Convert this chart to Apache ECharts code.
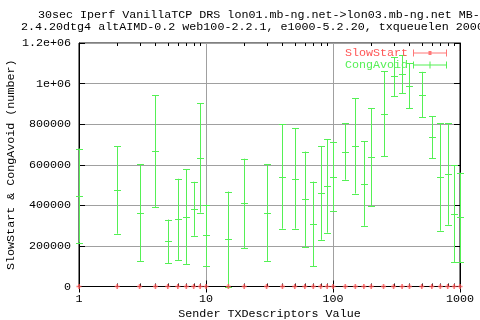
<!DOCTYPE html>
<html>
<head>
<meta charset="utf-8">
<script src="https://cdn.jsdelivr.net/npm/echarts@6/dist/echarts.min.js"></script>
<style>html,body{margin:0;padding:0;background:#fff}#chart{width:480px;height:320px}</style>
</head>
<body>
<div id="chart"></div>
<script>
// titles (clipped on the right like the original)
var titleLine1 = '30sec Iperf VanillaTCP DRS lon01.mb-ng.net->lon03.mb-ng.net MB-';
var titleLine2 = '2.4.20dtg4 altAIMD-0.2 web100-2.2.1, e1000-5.2.20, txqueuelen 2000';

// x values (TX descriptors)
var txDesc = [1, 2, 3, 4, 5, 6, 7, 8, 9, 10, 15, 20, 30, 40, 50, 60, 70, 80, 90, 100,
    125, 150, 175, 200, 250, 300, 350, 400, 500, 600, 700, 800, 900, 1000];
// SlowStart: always 0
var slowStart = [0, 0, 0, 0, 0, 0, 0, 0, 0, 0, 0, 0, 0, 0, 0, 0, 0, 0, 0, 0,
    0, 0, 0, 0, 0, 0, 0, 0, 0, 0, 0, 0, 0, 0];
// CongAvoid mean and error
var congMean = [448000, 475000, 364000, 667000, 223000, 331000, 344000, 383000, 634000, 252000,
    234000, 410000, 364000, 542000, 532000, 430000, 309000, 460000, 495000, 542000,
    665000, 693000, 507000, 638000, 851000, 1035000, 1046000, 990000, 946000, 735000,
    540000, 554000, 359000, 341000];
var congDev = [232000, 215000, 238000, 275000, 107000, 200000, 233000, 133000, 270000, 151000,
    234000, 220000, 238000, 257000, 247000, 235000, 208000, 230000, 230000, 168000,
    139000, 235000, 208000, 240000, 210000, 96000, 94000, 111000, 112000, 104000,
    265000, 250000, 238000, 220000];

var yTickLabels = ['0', '200000', '400000', '600000', '800000', '1e+06', '1.2e+06'];
var xTickLabels = ['1', '10', '100', '1000'];
var minorTickVals = [2, 3, 4, 5, 6, 7, 8, 9, 20, 30, 40, 50, 60, 70, 80, 90, 200, 300, 400, 500, 600, 700, 800, 900];

var RED = '#ff5555';
var GREEN = '#55f055';
var FONT = 'Liberation Mono';

var congData = [];
var ssData = [];
for (var i = 0; i < txDesc.length; i++) {
    congData.push([txDesc[i], congMean[i] - congDev[i], congMean[i], congMean[i] + congDev[i]]);
    ssData.push([txDesc[i], slowStart[i]]);
}

function crisp(v) { return Math.round(v) + 0.5; }

var myChart = echarts.init(document.getElementById('chart'));

var option = {
    animation: false,
    backgroundColor: '#fff',
    textStyle: { fontFamily: FONT, fontSize: 11.7, color: '#000' },
    title: [
        { text: titleLine1, left: 38, top: 9, padding: 0,
          textStyle: { fontFamily: FONT, fontSize: 11.7, fontWeight: 'normal', color: '#000' } },
        { text: titleLine2, left: 21, top: 21, padding: 0,
          textStyle: { fontFamily: FONT, fontSize: 11.7, fontWeight: 'normal', color: '#000' } }
    ],
    legend: {
        orient: 'vertical',
        right: 33,
        top: 47,
        padding: 0,
        itemGap: 0,
        itemWidth: 34,
        itemHeight: 7,
        align: 'right',
        textStyle: { fontFamily: FONT, fontSize: 11.7, lineHeight: 11 },
        data: [
            { name: 'SlowStart', textStyle: { color: RED },
              icon: 'path://M0,0h1v7h-1z M0,3h34v1h-34z M33,0h1v7h-1z M15.5,1.5h3v4h-3z' },
            { name: 'CongAvoid', textStyle: { color: GREEN },
              icon: 'path://M0,0h1v7h-1z M0,3h34v1h-34z M33,0h1v7h-1z M16.5,0h1v7h-1z' }
        ]
    },
    grid: { left: 79, right: 20, top: 43, bottom: 33.5, containLabel: false, outerBoundsMode: 'none',
        show: true, borderColor: '#000', borderWidth: 1 },
    xAxis: [{
        type: 'log',
        logBase: 10,
        min: 1,
        max: 1000,
        name: 'Sender TXDescriptors Value',
        nameLocation: 'middle',
        nameGap: 21,
        nameMoveOverlap: false,
        nameTextStyle: { fontFamily: FONT, fontSize: 11.7, color: '#000' },
        axisLine: { lineStyle: { color: '#000' } },
        axisTick: { inside: true, length: 6, lineStyle: { color: '#000' } },
        axisLabel: { margin: 6, fontFamily: FONT, fontSize: 11.7, color: '#000',
            formatter: function (v, idx) { return xTickLabels[idx] || String(Math.round(v)); } },
        splitLine: { show: true, lineStyle: { color: '#a0a0a0' } }
    }, {
        type: 'log',
        logBase: 10,
        min: 1,
        max: 1000,
        position: 'top',
        axisLine: { lineStyle: { color: '#000' } },
        axisTick: { inside: true, length: 6, lineStyle: { color: '#000' } },
        axisLabel: { show: false },
        splitLine: { show: false }
    }],
    yAxis: [{
        type: 'value',
        min: 0,
        max: 1200000,
        interval: 200000,
        name: 'SlowStart & CongAvoid (number)',
        nameLocation: 'middle',
        nameGap: 62,
        nameMoveOverlap: false,
        nameTextStyle: { fontFamily: FONT, fontSize: 11.7, color: '#000' },
        axisLine: { show: true, lineStyle: { color: '#000' } },
        axisTick: { show: true, inside: true, length: 6, lineStyle: { color: '#000' } },
        axisLabel: { margin: 8, fontFamily: FONT, fontSize: 11.7, color: '#000',
            formatter: function (v, idx) { return yTickLabels[idx]; } },
        splitLine: { show: true, lineStyle: { color: '#a0a0a0' } }
    }, {
        type: 'value',
        min: 0,
        max: 1200000,
        interval: 200000,
        position: 'right',
        axisLine: { show: true, lineStyle: { color: '#000' } },
        axisTick: { show: true, inside: true, length: 6, lineStyle: { color: '#000' } },
        axisLabel: { show: false },
        splitLine: { show: false }
    }],
    series: [
        {
            // minor ticks of the log axis (top and bottom)
            type: 'custom',
            silent: true,
            xAxisIndex: 0,
            yAxisIndex: 0,
            data: minorTickVals.map(function (v) { return [v]; }),
            encode: { x: 0 },
            renderItem: function (params, api) {
                var b = api.coord([api.value(0), 0]);
                var t = api.coord([api.value(0), 1200000]);
                var x = crisp(b[0]);
                var st = { stroke: '#000', lineWidth: 1 };
                return { type: 'group', children: [
                    { type: 'line', shape: { x1: x, y1: b[1], x2: x, y2: b[1] - 3 }, style: st },
                    { type: 'line', shape: { x1: x, y1: t[1], x2: x, y2: t[1] + 3 }, style: st }
                ] };
            },
            z: 1
        },
        {
            name: 'CongAvoid',
            type: 'custom',
            itemStyle: { color: GREEN },
            data: congData,
            encode: { x: 0, y: [1, 2, 3] },
            renderItem: function (params, api) {
                var xv = api.value(0);
                var lo = api.coord([xv, api.value(1)]);
                var mid = api.coord([xv, api.value(2)]);
                var hi = api.coord([xv, api.value(3)]);
                var x = crisp(lo[0]);
                var w = 3;
                var st = { stroke: GREEN, lineWidth: 1 };
                function cap(y) {
                    y = crisp(y);
                    return { type: 'line', shape: { x1: x - w - 0.5, y1: y, x2: x + w + 0.5, y2: y }, style: st };
                }
                return { type: 'group', children: [
                    { type: 'line', shape: { x1: x, y1: hi[1], x2: x, y2: lo[1] }, style: st },
                    cap(hi[1]), cap(mid[1]), cap(lo[1])
                ] };
            },
            z: 2
        },
        {
            name: 'SlowStart',
            type: 'scatter',
            data: ssData,
            symbol: 'path://M2,0H4V2H6V4H4V6H2V4H0V2H2Z',
            symbolSize: 5,
            itemStyle: { color: RED },
            z: 3
        }
    ]
};

myChart.setOption(option);
</script>
</body>
</html>
